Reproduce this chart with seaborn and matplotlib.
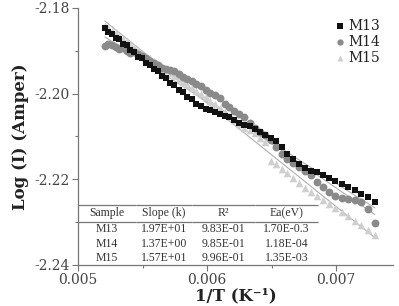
import numpy as np
import pandas as pd
import matplotlib
matplotlib.use("Agg")
import matplotlib.pyplot as plt
from matplotlib.ticker import FormatStrFormatter, MultipleLocator
import seaborn as sns

# Temperatures (K); x axis is 1/T
temperature = [192, 191, 190, 189, 188, 187, 186, 185, 184, 183, 182, 181, 180, 179,
               178, 177, 176, 175, 174, 173, 172, 171, 170, 169, 168, 167, 166, 165,
               164, 163, 162, 161, 160, 159, 158, 157, 156, 155, 154, 153, 152, 151,
               150, 149, 148, 147, 146, 145, 144, 143, 142, 141, 140, 139, 138, 137]

m13 = [-2.18460, -2.18570, -2.18600, -2.18705, -2.18735, -2.18845, -2.18875, -2.18990,
       -2.19020, -2.19135, -2.19170, -2.19285, -2.19320, -2.19435, -2.19475, -2.19590,
       -2.19630, -2.19750, -2.19795, -2.19910, -2.19955, -2.20075, -2.20125, -2.20250,
       -2.20300, -2.20349, -2.20372, -2.20419, -2.20465, -2.20512, -2.20535, -2.20605,
       -2.20674, -2.20721, -2.20767, -2.20837, -2.20907, -2.20977, -2.21047, -2.21116,
       -2.21256, -2.21419, -2.21535, -2.21651, -2.21744, -2.21814, -2.21837, -2.21907,
       -2.21977, -2.22047, -2.22116, -2.22186, -2.22256, -2.22349, -2.22419, -2.22535]

m14 = [-2.18884, -2.18837, -2.18860, -2.18907, -2.18953, -2.18930, -2.19000, -2.19047,
       -2.19023, -2.19070, -2.19116, -2.19163, -2.19233, -2.19279, -2.19326, -2.19395,
       -2.19419, -2.19442, -2.19465, -2.19535, -2.19605, -2.19651, -2.19698, -2.19767,
       -2.19814, -2.19907, -2.19977, -2.20023, -2.20093, -2.20233, -2.20302, -2.20395,
       -2.20465, -2.20535, -2.20674, -2.20791, -2.20884, -2.20977, -2.21093, -2.21256,
       -2.21419, -2.21535, -2.21628, -2.21721, -2.21814, -2.21907, -2.22070, -2.22186,
       -2.22302, -2.22395, -2.22442, -2.22465, -2.22488, -2.22535, -2.22698, -2.23023]

m15 = [-2.18419, -2.18465, -2.18535, -2.18581, -2.18651, -2.18721, -2.18767, -2.18837,
       -2.18907, -2.18977, -2.19047, -2.19116, -2.19163, -2.19233, -2.19302, -2.19372,
       -2.19442, -2.19512, -2.19581, -2.19651, -2.19721, -2.19791, -2.19860, -2.19930,
       -2.20000, -2.20070, -2.20163, -2.20233, -2.20326, -2.20419, -2.20512, -2.20605,
       -2.20698, -2.20791, -2.20860, -2.20930, -2.21047, -2.21140, -2.21581, -2.21651,
       -2.21767, -2.21860, -2.21977, -2.22093, -2.22209, -2.22302, -2.22395, -2.22488,
       -2.22581, -2.22674, -2.22767, -2.22860, -2.22977, -2.23070, -2.23186, -2.23302]

series_names = ["M13", "M14", "M15"]
series_values = [m13, m14, m15]

table_header = ["Sample", "Slope (k)", "R²", "Ea(eV)"]
table_rows = [["M13", "1.97E+01", "9.83E-01", "1.70E-0.3"],
              ["M14", "1.37E+00", "9.85E-01", "1.18E-04"],
              ["M15", "1.57E+01", "9.96E-01", "1.35E-03"]]

inv_t = [1.0 / t for t in temperature]
df = pd.concat([pd.DataFrame({"x": inv_t, "y": v, "sample": n})
                for n, v in zip(series_names, series_values)], ignore_index=True)

sns.set_style("ticks")
plt.rcParams["font.family"] = ["DejaVu Serif"]
plt.rcParams["axes.unicode_minus"] = False

fig = plt.figure(figsize=(3.99, 3.06), dpi=100)
ax = fig.add_axes([0.1955, 0.134, 0.7895, 0.840])

styles = {"M13": dict(marker="s", color="#111111", s=22),
          "M14": dict(marker="o", color="#8a8a8a", s=32),
          "M15": dict(marker="^", color="#cfcfcf", s=30)}

for name in series_names:
    sub = df[df["sample"] == name]
    sns.regplot(data=sub, x="x", y="y", scatter=False, ci=None, ax=ax,
                line_kws=dict(color="#b0b0b0", lw=0.8, zorder=1))
for name in ["M15", "M14", "M13"]:
    sub = df[df["sample"] == name]
    st = styles[name]
    sns.scatterplot(data=sub, x="x", y="y", ax=ax, marker=st["marker"],
                    color=st["color"], s=st["s"], linewidth=0, label=name, zorder=2)

ax.set_xlim(0.005, 0.00744)
ax.set_ylim(-2.24, -2.18)
ax.xaxis.set_major_locator(MultipleLocator(0.001))
ax.xaxis.set_minor_locator(MultipleLocator(0.0005))
ax.yaxis.set_major_locator(MultipleLocator(0.02))
ax.yaxis.set_minor_locator(MultipleLocator(0.01))
ax.xaxis.set_major_formatter(FormatStrFormatter("%.3f"))
ax.yaxis.set_major_formatter(FormatStrFormatter("%.2f"))
ax.tick_params(which="major", length=4, width=0.8, color="#777777",
               labelsize=10, labelcolor="#444444", pad=2)
ax.tick_params(which="minor", length=2.5, width=0.8, color="#777777")
for side in ["top", "right"]:
    ax.spines[side].set_visible(False)
for side in ["left", "bottom"]:
    ax.spines[side].set_color("#777777")
    ax.spines[side].set_linewidth(0.9)

ax.set_xlabel("1/T (K⁻¹)", fontsize=12, fontweight="bold", color="#222222", labelpad=0)
ax.set_ylabel("Log (I) (Amper)", fontsize=12, fontweight="bold", color="#222222", labelpad=4)

handles, labels = ax.get_legend_handles_labels()
order = [labels.index(n) for n in series_names]
ax.legend([handles[i] for i in order], [labels[i] for i in order],
          loc="upper right", bbox_to_anchor=(0.985, 0.99), frameon=False,
          fontsize=10, handletextpad=0.05, labelspacing=0.15, borderaxespad=0.2,
          handlelength=1.0, markerscale=0.8, labelcolor="#222222")

# Summary table in the lower left of the axes
tbl = ax.table(cellText=table_rows, colLabels=table_header, cellLoc="center",
               bbox=[0.0, 0.0, 0.762, 0.2335],
               colWidths=[0.242, 0.233, 0.2625, 0.2625])
tbl.auto_set_font_size(False)
for (r, c), cell in tbl.get_celld().items():
    cell.set_edgecolor("#777777")
    cell.set_linewidth(0.9)
    cell.set_facecolor("none")
    cell.get_text().set_fontfamily("Liberation Serif")
    cell.get_text().set_fontsize(8.5)
    cell.get_text().set_color("#333333")
    if r == 0:
        cell.visible_edges = "TB"
        cell.set_height(17)
    else:
        cell.visible_edges = "open"
        cell.set_height(14.3)

fig.savefig("out.png", dpi=100)
